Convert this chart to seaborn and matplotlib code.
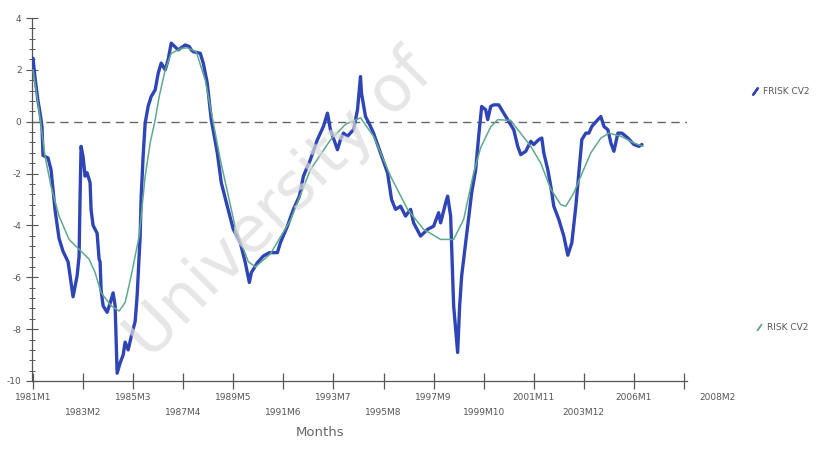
import numpy as np
import pandas as pd
import matplotlib
matplotlib.use("Agg")
import matplotlib.pyplot as plt
import matplotlib.transforms as mtransforms
from matplotlib.lines import Line2D
from matplotlib.ticker import MultipleLocator
import seaborn as sns

# ---------------- data (months counted from 1981M1) ----------------
risk_month = [0, 1, 2.5, 3.5, 4.5, 5, 7.5, 9, 11, 13, 15, 17.5, 19, 20, 22, 23, 23.5, 24, 25, 26,
              27, 28.5, 29, 30, 32, 33, 33.5, 34, 35, 37, 38.5, 40, 41, 42, 43.5, 45, 46, 47.5, 49, 51,
              52, 53, 53.5, 54, 55, 56, 57.5, 59, 61, 62.5, 64, 66, 67.5, 69, 72.5, 76, 78, 79, 80, 83.5,
              85, 87, 89, 92, 94, 97, 100, 103.5, 106, 108, 109, 112, 115, 118, 122, 123.5, 127, 130, 133, 135,
              138.5, 142, 145, 147, 148.5, 152, 153.5, 155, 157, 160, 162, 163.5, 164, 166, 168.5, 170, 173.5, 177, 179, 181,
              183.5, 186, 188.5, 190, 193.5, 197, 200, 202.5, 203.5, 206, 207, 208.5, 210, 212, 213, 214, 217, 219, 221, 222.5,
              224, 226, 227, 228.5, 230, 232.5, 235, 237.5, 240, 242, 243.5, 246, 248.5, 250, 252.5, 254, 255, 257, 258.5, 260,
              262.5, 265, 267, 269, 271, 272.5, 274, 276, 277.5, 279, 282, 283.5, 285, 287, 288.5, 290, 292, 294, 297, 300,
              302.5, 304]
risk_value = [2.45, 1.7, 0.8, 0.35, -0.2, -1.3, -1.4, -1.85, -3.4, -4.5, -5.0, -5.4, -6.2, -6.75, -5.95, -5.2, -2.9, -0.95, -1.35, -2.1,
              -1.97, -2.35, -3.4, -4.0, -4.3, -5.3, -5.4, -6.5, -7.1, -7.35, -7.0, -6.6, -7.1, -9.7, -9.3, -9.0, -8.5, -8.8, -8.3, -7.7,
              -6.7, -5.2, -4.4, -2.9, -1.3, -0.05, 0.6, 0.97, 1.23, 1.87, 2.26, 2.0, 2.4, 3.03, 2.77, 2.96, 2.9, 2.77, 2.7, 2.64,
              2.26, 1.49, 0.08, -1.2, -2.35, -3.26, -4.15, -4.67, -5.44, -6.2, -5.82, -5.44, -5.18, -5.05, -5.05, -4.67, -4.03, -3.38, -2.87, -2.1,
              -1.46, -0.69, -0.18, 0.33, -0.31, -1.08, -0.69, -0.44, -0.56, -0.31, 0.46, 1.74, 1.1, 0.2, -0.18, -0.44, -1.2, -1.97, -3.0, -3.38,
              -3.26, -3.64, -3.38, -3.9, -4.41, -4.15, -4.03, -3.51, -3.9, -3.13, -2.87, -3.64, -7.1, -8.9, -7.1, -5.95, -4.03, -2.74, -1.85, -0.56,
              0.59, 0.46, 0.08, 0.59, 0.65, 0.65, 0.33, 0.01, -0.31, -0.95, -1.27, -1.14, -0.76, -0.88, -0.69, -0.63, -1.2, -1.85, -2.49, -3.26,
              -3.77, -4.41, -5.15, -4.67, -3.26, -1.97, -0.69, -0.44, -0.44, -0.18, 0.08, 0.2, -0.18, -0.31, -0.82, -1.14, -0.44, -0.44, -0.63, -0.88,
              -0.95, -0.88]

trend_month = [0, 3, 6, 9, 13, 18, 23, 28, 31, 34, 39, 43, 46, 49, 53, 56, 58.5, 61, 63, 66,
               69, 74, 77, 81.5, 86, 93.5, 101, 107.5, 111, 118.5, 128.5, 138.5, 148.5, 156, 163.5, 170, 178.5, 187, 195, 203.5,
               210, 215, 220, 223.5, 228.5, 232, 238.5, 248.5, 253.5, 258.5, 263.5, 266, 270, 273.5, 278.5, 283.5, 287.5, 293.5, 300, 304.5]
trend_value = [2.0, 0.46, -1.33, -2.49, -3.64, -4.54, -4.92, -5.3, -5.82, -6.59, -7.1, -7.3, -6.97, -5.95, -4.41, -2.1, -0.82, 0.08, 0.97, 2.0,
               2.64, 2.83, 2.85, 2.7, 1.6, -1.46, -4.08, -5.4, -5.6, -5.1, -3.8, -1.85, -0.7, -0.1, 0.15, -0.56, -2.1, -3.38, -4.15, -4.54,
               -4.54, -3.77, -1.97, -1.0, -0.2, 0.08, 0.05, -0.95, -1.6, -2.6, -3.2, -3.26, -2.74, -2.1, -1.2, -0.63, -0.44, -0.56, -0.82, -0.95]

tick_month = [0, 25, 50, 75, 100, 125, 150, 175, 200, 225, 250, 275, 300, 325]
tick_label = ["1981M1", "1983M2", "1985M3", "1987M4", "1989M5", "1991M6", "1993M7",
              "1995M8", "1997M9", "1999M10", "2001M11", "2003M12", "2006M1", "2008M2"]
series_names = ["FRISK CV2", "RISK CV2"]

# ---------------- figure ----------------
sns.set_style("white")
plt.rcParams["font.family"] = ["DejaVu Sans"]

W, H = 840, 450
fig = plt.figure(figsize=(8.4, 4.5), dpi=100)
ax = fig.add_axes([32 / W, 1 - 381 / H, (687 - 32) / W, (381 - 18) / H])

blue = "#2f45b5"
green = "#5fa98c"

df_risk = pd.DataFrame({"month": risk_month, "value": risk_value})
df_trend = pd.DataFrame({"month": trend_month, "value": trend_value})

sns.lineplot(data=df_risk, x="month", y="value", ax=ax, color=blue, lw=2.4,
             sort=False, estimator=None, zorder=3)
sns.lineplot(data=df_trend, x="month", y="value", ax=ax, color=green, lw=1.1,
             sort=False, estimator=None, zorder=4)

ax.axhline(0, color="#666666", lw=1.0, ls=(0, (6, 4)), zorder=2)

ax.set_xlim(-0.5, 326.5)
ax.set_ylim(-10, 4)

# spines
for s in ["top", "right"]:
    ax.spines[s].set_visible(False)
for s in ["left", "bottom"]:
    ax.spines[s].set_color("#555555")
    ax.spines[s].set_linewidth(0.9)

# y ticks
ax.yaxis.set_major_locator(MultipleLocator(2))
ax.yaxis.set_minor_locator(MultipleLocator(0.4))
ax.tick_params(axis="y", which="both", left=True)
ax.tick_params(axis="y", which="major", direction="inout", length=9, width=0.8,
               color="#555555", labelsize=6.5, labelcolor="#555555", pad=3)
ax.tick_params(axis="y", which="minor", direction="inout", length=5, width=0.7, color="#555555")
ax.set_yticks(ax.get_yticks())
ax.set_yticklabels([f"{int(v)}" for v in ax.get_yticks()])
ax.set_ylim(-10, 4)

# x ticks, alternating rows
ax.set_xticks(tick_month)
labels = [lab if (i % 2 == 0 or i == len(tick_label) - 1) else "\n" + lab
          for i, lab in enumerate(tick_label)]
ax.set_xticklabels(labels, linespacing=1.9)
ax.tick_params(axis="x", which="major", bottom=True, direction="inout", length=11, width=0.9,
               color="#555555", labelsize=6.5, labelcolor="#555555", pad=3)
last = ax.get_xticklabels()[-1]
last.set_transform(last.get_transform() + mtransforms.ScaledTranslation(0.33, 0, fig.dpi_scale_trans))

ax.set_xlabel("Months", fontsize=9.5, color="#666666", labelpad=4)
ax.xaxis.set_label_coords((320 - 32) / (687 - 32), -0.125)
ax.set_ylabel("")

# legends on the right
h1 = Line2D([], [], color=blue, marker=(2, 2, -35), markersize=7, linestyle="None", markeredgewidth=1.6)
h2 = Line2D([], [], color=green, marker=(2, 2, -35), markersize=6, linestyle="None", markeredgewidth=1.0)
leg1 = fig.legend(handles=[h1], labels=[series_names[0]], loc="center left",
                  bbox_to_anchor=(742 / W, 1 - 92 / H), frameon=False, fontsize=6.5,
                  handlelength=1.0, handletextpad=0.4, labelcolor="#555555")
leg2 = fig.legend(handles=[h2], labels=[series_names[1]], loc="center left",
                  bbox_to_anchor=(746 / W, 1 - 328 / H), frameon=False, fontsize=6.5,
                  handlelength=1.0, handletextpad=0.4, labelcolor="#555555")

# faint scan watermark
fig.text(280 / W, 1 - 205 / H, "University of", fontsize=46, rotation=45,
         color="#dcdcdc", alpha=0.7, ha="center", va="center", zorder=10)

fig.savefig("out.png", dpi=100)
